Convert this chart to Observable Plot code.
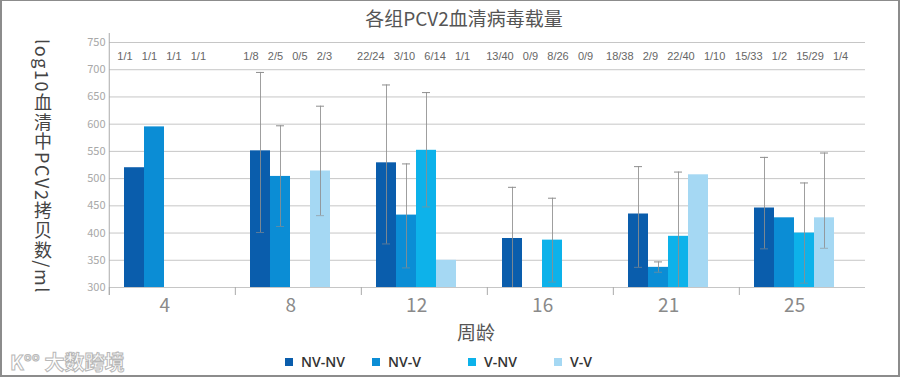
<!DOCTYPE html>
<html><head><meta charset="utf-8">
<script src="https://cdn.jsdelivr.net/npm/d3@7"></script>
<script src="https://cdn.jsdelivr.net/npm/@observablehq/plot@0.6"></script>
<style>
body{margin:0;background:#fff;}
#wrap{position:relative;width:900px;height:377px;overflow:hidden;background:#fff;font-family:"Noto Sans CJK SC","Noto Sans",sans-serif;}
#border{position:absolute;left:0;top:0;width:900px;height:377px;box-sizing:border-box;border:2px solid #8c8c8c;border-top-width:1px;pointer-events:none;}
#title{position:absolute;top:4px;left:0;width:928px;text-align:center;font-size:19px;color:#555;white-space:nowrap;}
#ylabel{position:absolute;left:33px;top:39px;writing-mode:vertical-rl;font-size:18px;line-height:20px;color:#444;white-space:nowrap;letter-spacing:1.6px;}
#xlabel{position:absolute;left:457px;top:318px;font-size:19px;color:#555;}
.leg{position:absolute;top:352px;font-family:"Open Sans",sans-serif;font-weight:600;font-size:14px;color:#333;display:flex;align-items:center;white-space:nowrap;}
.leg i{display:inline-block;width:8px;height:8px;margin-right:8px;}
#wm{position:absolute;left:10px;top:347px;font-size:20px;color:#fff;-webkit-text-stroke:1px #b8b8b8;font-weight:700;white-space:nowrap;}
#plot{position:absolute;left:0;top:0;}
.ratio text{white-space:pre;}
</style></head>
<body>
<div id="wrap">
  <div id="plot"></div>
  <div id="title"></div>
  <div id="ylabel"></div>
  <div id="xlabel"></div>
  <div id="legend"></div>
  <div id="wm">K°° 大数跨境</div>
  <div id="border"></div>
</div>
<script>
// ---- data ----
const titleText = "各组PCV2血清病毒载量";
const yLabelText = "log10血清中PCV2拷贝数/ml";
const xLabelText = "周龄";
const weeks = [4, 8, 12, 16, 21, 25];
const groups = ["NV-NV", "NV-V", "V-NV", "V-V"];
const colors = ["#0a5dac", "#0b8dd5", "#0db2ea", "#a5d8f3"];
const yTicks = [300, 350, 400, 450, 500, 550, 600, 650, 700, 750];

const meanNVNV = [520, 551, 529, 390, 435, 446];
const meanNVV  = [595, 504, 433, null, 337, 428];
const meanVNV  = [null, null, 552, 387, 394, 400];
const meanVV   = [null, 514, 350, null, 507, 428];

const hiNVNV = [null, 695, 672, 484, 522, 539];
const hiNVV  = [null, 597, 527, null, 347, null];
const hiVNV  = [null, null, 658, 464, 512, 492];
const hiVV   = [null, 633, null, null, null, 547];

const loNVNV = [null, 401, 380, 300, 337, 371];
const loNVV  = [null, 412, 336, null, 328, null];
const loVNV  = [null, null, 448, 310, 300, 308];
const loVV   = [null, 432, null, null, null, 372];

const ratioNVNV = ["1/1", "1/8", "22/24", "13/40", "18/38", "15/33"];
const ratioNVV  = ["1/1", "2/5", "3/10", "0/9", "2/9", "1/2"];
const ratioVNV  = ["1/1", "0/5", "6/14", "8/26", "22/40", "15/29"];
const ratioVV   = ["1/1", "2/3", "1/1", "0/9", "1/10", "1/4"];

// ---- build table ----
const means = [meanNVNV, meanNVV, meanVNV, meanVV];
const his = [hiNVNV, hiNVV, hiVNV, hiVV];
const los = [loNVNV, loNVV, loVNV, loVV];
const ratios = [ratioNVNV, ratioNVV, ratioVNV, ratioVV];
const rows = [];
weeks.forEach((w, i) => groups.forEach((g, j) => rows.push({
  week: w, group: g, gi: j, value: means[j][i], hi: his[j][i], lo: los[j][i]
})));
const bars = rows.filter(d => d.value != null);
const errs = rows.filter(d => d.hi != null);
const ratioRows = weeks.map((w, i) => ({week: w, text: ratios.map(r => r[i]).join("   ")}));

// ---- layout ----
const W = 900, H = 377, mL = 108, mR = 34, mT = 42, mB = 90;
const fw = (W - mL - mR) / weeks.length;
const padOuter = 1.15, align = 0.33;
const step = fw / (groups.length + 2 * padOuter);
const startOff = (fw - groups.length * step) * align;
const firstCenter = startOff + step / 2;
const groupCenterShift = startOff + groups.length * step / 2 - fw / 2;
const pxPerUnit = (H - mT - mB) / (750 - 300);
const yMin = 300;

const font = '"Noto Sans CJK SC","Noto Sans",sans-serif';
const marks = [
  Plot.gridY({ticks: yTicks, stroke: "#c6c6c6", strokeOpacity: 1}),
  Plot.axisY({ticks: yTicks, tickSize: 0, tickPadding: 4, fontSize: 11, fill: "#a8a8a8"}),
  Plot.barY(bars, {fx: "week", x: "group", y1: () => yMin, y2: "value", fill: "group"}),
  Plot.ruleX(errs, {fx: "week", x: "group", y1: "lo", y2: "hi", stroke: "#8e8e8e", strokeOpacity: 0.85}),
  Plot.tickY(errs, {fx: "week", x: "group", y: "hi", stroke: "#8e8e8e", insetLeft: 6, insetRight: 6}),
  Plot.tickY(errs.filter(d => d.lo > yMin), {fx: "week", x: "group", y: "lo", stroke: "#8e8e8e", strokeOpacity: 0.6, insetLeft: 6, insetRight: 6}),
  Plot.axisFx({anchor: "bottom", tickSize: 8, tickFormat: () => "", dx: -fw / 2, stroke: "#aaa"}),
  Plot.ruleX([weeks[0]], {fx: d => d, x: () => groups[0], dx: -firstCenter, y1: yMin - 8 / pxPerUnit, y2: 750 + 9 / pxPerUnit, stroke: "#aaa"}),
  Plot.text(weeks, {fx: d => d, text: d => String(d), frameAnchor: "bottom", dy: 24, dx: groupCenterShift, fontSize: 19, fill: "#8a8a8a"}),
  Plot.text(ratioRows, {fx: "week", text: "text", frameAnchor: "top", dy: 10, dx: groupCenterShift - 3,
    fontSize: 11, fill: "#666", fontFamily: '"Liberation Sans",Arial,sans-serif', className: "ratio"})
];

const chart = Plot.plot({
  width: W, height: H, marginLeft: mL, marginRight: mR, marginTop: mT, marginBottom: mB,
  style: {fontFamily: font, background: "transparent", overflow: "visible"},
  fx: {domain: weeks, padding: 0, axis: null, label: null},
  x: {domain: groups, paddingInner: 0, paddingOuter: padOuter, align, axis: null},
  y: {domain: [300, 750], axis: null},
  color: {domain: groups, range: colors},
  marks
});
document.getElementById("plot").appendChild(chart);
document.getElementById("title").textContent = titleText;
document.getElementById("ylabel").textContent = yLabelText;
document.getElementById("xlabel").textContent = xLabelText;

const legLeft = [285, 372, 468, 554];
const legend = document.getElementById("legend");
groups.forEach((g, j) => {
  const el = document.createElement("div");
  el.className = "leg";
  el.style.left = legLeft[j] + "px";
  el.innerHTML = `<i style="background:${colors[j]}"></i>${g}`;
  legend.appendChild(el);
});
</script>
</body></html>
